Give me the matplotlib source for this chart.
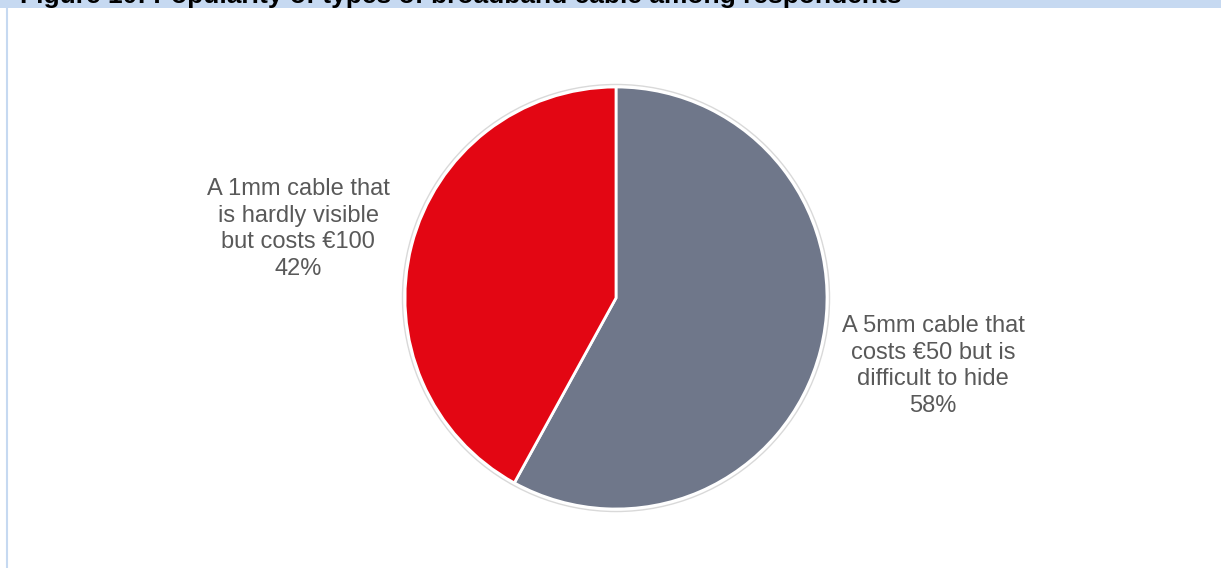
import matplotlib
matplotlib.use("Agg")
import matplotlib.pyplot as plt
from matplotlib.patches import Circle, Rectangle
from matplotlib.lines import Line2D

plt.rcParams['font.family'] = ['Liberation Sans', 'DejaVu Sans']

title = "Figure 10: Popularity of types of broadband cable among respondents"
categories = ["A 5mm cable that\ncosts €50 but is\ndifficult to hide",
              "A 1mm cable that\nis hardly visible\nbut costs €100"]
values = [58, 42]
colors = ["#6f778a", "#e30613"]

W, H = 1221, 568
fig = plt.figure(figsize=(W / 100, H / 100), dpi=100)
fig.patch.set_facecolor("white")

# title band
fig.patches.append(Rectangle((0, (H - 8) / H), 1, 8 / H, transform=fig.transFigure,
                             facecolor="#c6d9f1", edgecolor="none", zorder=0))
fig.lines.append(Line2D([6.5 / W, 6.5 / W], [0, (H - 8) / H], transform=fig.transFigure,
                        color="#c6d9f1", linewidth=1.5))
fig.text(20 / W, (H - 3) / H, title, fontsize=19, fontweight="bold", color="black",
         ha="left", va="baseline")

cx, cy, r = 616, 298, 211
ax = fig.add_axes([(cx - r * 1.05) / W, (H - cy - r * 1.05) / H,
                   2 * r * 1.05 / W, 2 * r * 1.05 / H])
wedges, _ = ax.pie(values, colors=colors, startangle=90, counterclock=False,
                   wedgeprops=dict(edgecolor="white", linewidth=2))
ax.add_patch(Circle((0, 0), 1.012, facecolor="none", edgecolor="#d9d9d9", linewidth=1))
ax.set_xlim(-1.05, 1.05)
ax.set_ylim(-1.05, 1.05)
ax.set_aspect("equal")
ax.axis("off")

label_pos = [(933, 366), (298, 229)]
for cat, v, (px, py) in zip(categories, values, label_pos):
    fig.text(px / W, (H - py) / H, f"{cat}\n{v}%", fontsize=17, color="#595959",
             ha="center", va="center", linespacing=1.28)

fig.savefig("out.png", dpi=100)
